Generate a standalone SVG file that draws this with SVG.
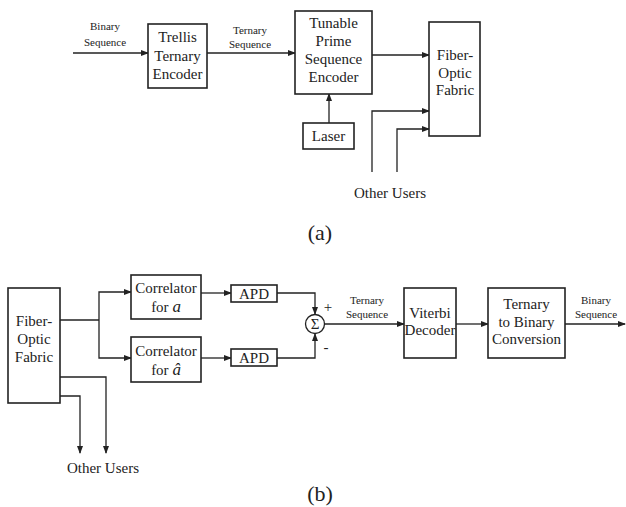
<svg xmlns="http://www.w3.org/2000/svg" width="626" height="507" viewBox="0 0 626 507">
<defs>
<marker id="ah" markerWidth="8" markerHeight="6" refX="7" refY="3" orient="auto" markerUnits="userSpaceOnUse">
<path d="M0,0 L8,3 L0,6 Z" fill="#222"/>
</marker>
<style>
.box{fill:#fff;stroke:#222;stroke-width:1.6}
.t{font-family:"Liberation Serif",serif;font-size:15px;fill:#222;text-anchor:middle}
.s{font-family:"Liberation Serif",serif;font-size:11px;fill:#222;text-anchor:middle}
.c{font-family:"Liberation Serif",serif;font-size:22px;fill:#222;text-anchor:middle}
.ln{fill:none;stroke:#222;stroke-width:1.3}
.ar{fill:none;stroke:#222;stroke-width:1.3;marker-end:url(#ah)}
</style>
</defs>
<rect width="626" height="507" fill="#fff"/>

<g id="connectors">
<path class="ar" d="M73,53 H148"/>
<path class="ar" d="M207,53 H295"/>
<path class="ar" d="M372,55 H429"/>
<path class="ar" d="M329,123 V94"/>
<path class="ar" d="M372,172 V111 H429"/>
<path class="ar" d="M397,172 V129 H429"/>
<path class="ln" d="M60,320 H99"/>
<path class="ar" d="M99,320 V292 H131"/>
<path class="ar" d="M99,320 V358 H131"/>
<path class="ar" d="M201,293 H231"/>
<path class="ar" d="M201,358 H231"/>
<path class="ar" d="M277,293 H315 V314"/>
<path class="ar" d="M277,358 H315 V334"/>
<path class="ar" d="M324,324 H404"/>
<path class="ar" d="M456,324 H488"/>
<path class="ar" d="M565,324 H625"/>
<path class="ar" d="M60,377 H106 V453"/>
<path class="ar" d="M60,396 H80 V453"/>
</g>

<g id="input-label-a">
<text class="s" x="105" y="30">Binary</text>
<text class="s" x="105" y="46">Sequence</text>
</g>
<g id="trellis">
<rect class="box" x="148" y="24" width="59" height="64"/>
<text class="t" x="177.5" y="42">Trellis</text>
<text class="t" x="177.5" y="61">Ternary</text>
<text class="t" x="177.5" y="79">Encoder</text>
</g>
<g id="ternary-label-a">
<text class="s" x="250" y="34">Ternary</text>
<text class="s" x="250" y="48">Sequence</text>
</g>
<g id="tunable">
<rect class="box" x="295" y="11" width="77" height="83"/>
<text class="t" x="333.5" y="28">Tunable</text>
<text class="t" x="333.5" y="46">Prime</text>
<text class="t" x="333.5" y="64">Sequence</text>
<text class="t" x="333.5" y="82">Encoder</text>
</g>
<g id="laser">
<rect class="box" x="303" y="123" width="51" height="26"/>
<text class="t" x="328.5" y="141">Laser</text>
</g>
<g id="fabric-a">
<rect class="box" x="429" y="22" width="51" height="114"/>
<text class="t" x="455" y="60">Fiber-</text>
<text class="t" x="455" y="78">Optic</text>
<text class="t" x="455" y="95">Fabric</text>
</g>
<g id="users-a">
<text class="t" x="390" y="198">Other Users</text>
</g>
<g id="caption-a">
<text class="c" x="320" y="240">(a)</text>
</g>

<g id="fabric-b">
<rect class="box" x="8" y="288" width="52" height="115"/>
<text class="t" x="34" y="326">Fiber-</text>
<text class="t" x="34" y="344">Optic</text>
<text class="t" x="34" y="362">Fabric</text>
</g>
<g id="corr-a">
<rect class="box" x="131" y="275" width="70" height="44"/>
<text class="t" x="166" y="293">Correlator</text>
<text class="t" x="166" y="312">for <tspan font-style="italic" font-size="17px">a</tspan></text>
</g>
<g id="corr-ahat">
<rect class="box" x="131" y="337" width="70" height="45"/>
<text class="t" x="166" y="356">Correlator</text>
<text class="t" x="166" y="375">for <tspan font-style="italic" font-size="17px">â</tspan></text>
</g>
<g id="apd1">
<rect class="box" x="231" y="285" width="46" height="17"/>
<text class="t" x="254" y="299">APD</text>
</g>
<g id="apd2">
<rect class="box" x="231" y="349" width="46" height="17"/>
<text class="t" x="254" y="363">APD</text>
</g>
<g id="sum">
<circle cx="315" cy="324" r="9.5" fill="#fff" stroke="#222" stroke-width="1.3"/>
<text class="t" x="315" y="329" font-size="13px">Σ</text>
<text class="t" x="328" y="312">+</text>
<text class="t" x="326" y="352">-</text>
</g>
<g id="ternary-label-b">
<text class="s" x="367" y="304">Ternary</text>
<text class="s" x="367" y="318">Sequence</text>
</g>
<g id="viterbi">
<rect class="box" x="404" y="288" width="52" height="70"/>
<text class="t" x="430" y="318" font-size="14px">Viterbi</text>
<text class="t" x="430" y="335" font-size="14px">Decoder</text>
</g>
<g id="t2b">
<rect class="box" x="488" y="288" width="77" height="70"/>
<text class="t" x="526.5" y="309">Ternary</text>
<text class="t" x="526.5" y="327">to Binary</text>
<text class="t" x="526.5" y="344">Conversion</text>
</g>
<g id="binary-label-b">
<text class="s" x="596" y="304">Binary</text>
<text class="s" x="596" y="318">Sequence</text>
</g>
<g id="users-b">
<text class="t" x="103" y="473">Other Users</text>
</g>
<g id="caption-b">
<text class="c" x="320" y="501">(b)</text>
</g>
</svg>
